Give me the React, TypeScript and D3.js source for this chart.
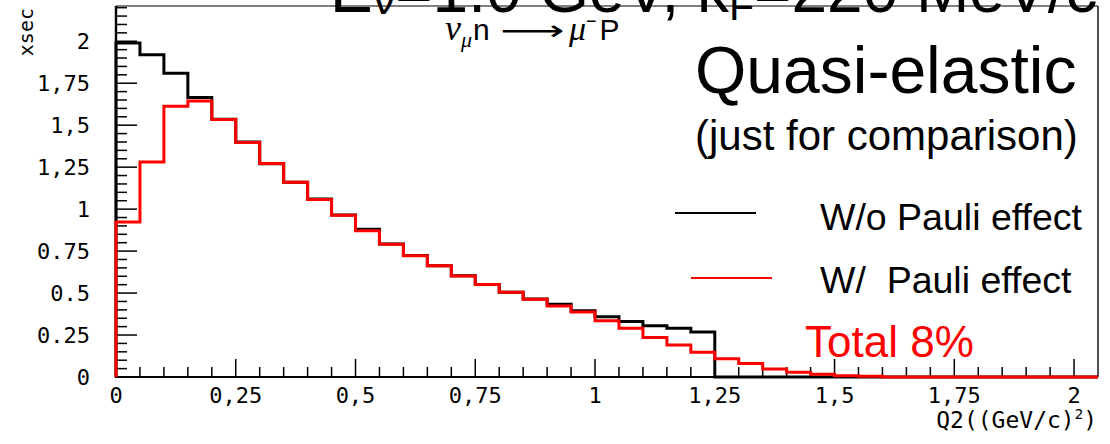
import React from 'react';
import * as d3 from 'd3';

// Q2 histogram binning (GeV/c)^2
const BIN_WIDTH = 0.05;
const X_MAX = 2.05;
const Y_MAX = 2.21;

// Quasi-elastic cross section per Q2 bin, without Pauli blocking
const xsecNoPauli = [
  1.99, 1.92, 1.81, 1.665, 1.535, 1.4, 1.27, 1.16, 1.06, 0.965,
  0.88, 0.792, 0.724, 0.662, 0.603, 0.551, 0.505, 0.464, 0.434, 0.395,
  0.359, 0.331, 0.305, 0.29, 0.268, 0, 0, 0, 0, 0,
  0, 0, 0, 0, 0, 0, 0, 0, 0, 0,
  0,
];

// Same, with Pauli blocking applied
const xsecPauli = [
  0.923, 1.28, 1.613, 1.644, 1.534, 1.397, 1.272, 1.16, 1.058, 0.963,
  0.871, 0.791, 0.722, 0.662, 0.601, 0.551, 0.505, 0.463, 0.423, 0.387,
  0.335, 0.29, 0.235, 0.191, 0.147, 0.109, 0.08, 0.047, 0.029, 0.016,
  0.007, 0.004, 0, 0, 0, 0, 0, 0, 0, 0,
  0,
];

const xTickValues = [0, 0.25, 0.5, 0.75, 1, 1.25, 1.5, 1.75, 2];
const xTickLabels = ['0', '0,25', '0,5', '0,75', '1', '1,25', '1,5', '1,75', '2'];
const yTickValues = [0, 0.25, 0.5, 0.75, 1, 1.25, 1.5, 1.75, 2];
const yTickLabels = ['0', '0.25', '0.5', '0.75', '1', '1,25', '1,5', '1,75', '2'];

const legendItems = [
  { label: 'W/o Pauli effect', color: '#000000' },
  { label: 'W/  Pauli effect', color: '#ff0000' },
];

const LEFT = 116;
const RIGHT = 1098;
const TOP = 6;
const BOTTOM = 377;

const axisFont = '"DejaVu Sans Mono", monospace';
const textFont = '"Liberation Sans", Arial, sans-serif';
const serifFont = '"Liberation Serif", serif';

export default function App() {
  const x = d3.scaleLinear().domain([0, X_MAX]).range([LEFT, RIGHT]);
  const y = d3.scaleLinear().domain([0, Y_MAX]).range([BOTTOM, TOP]);

  const histPath = (vals: number[]) => {
    const pts: [number, number][] = [
      [0, 0],
      ...vals.map((v, i) => [i * BIN_WIDTH, v] as [number, number]),
      [X_MAX, vals[vals.length - 1]],
      [X_MAX, 0],
    ];
    return (
      d3
        .line<[number, number]>()
        .x((d) => x(d[0]))
        .y((d) => y(d[1]))
        .curve(d3.curveStepAfter)(pts) || ''
    );
  };

  const isMajor = (v: number) => Math.abs(v / 0.25 - Math.round(v / 0.25)) < 1e-6;
  const xMinor = d3.range(0, X_MAX - 0.001, BIN_WIDTH).filter((v) => !isMajor(v));
  const yMinor = d3.range(0, Y_MAX - 0.001, BIN_WIDTH).filter((v) => !isMajor(v));

  return (
    <svg
      width={1110}
      height={444}
      style={{ position: 'absolute', left: 0, top: 0, background: '#fff' }}
      xmlns="http://www.w3.org/2000/svg"
    >
      <rect x={0} y={0} width={1110} height={444} fill="#fff" />

      {/* Run conditions title, sitting at the top edge */}
      <text x={330} y={12} fontFamily={textFont} fontSize={64} fill="#000" style={{ whiteSpace: 'pre' }}>
        E
        <tspan fontSize={45} dy={2}>ν</tspan>
        <tspan dy={-2}>=1.0 GeV, k</tspan>
        <tspan fontSize={41} dy={8}>F</tspan>
        <tspan dy={-8}>=220 MeV/c</tspan>
      </text>

      <defs>
        <clipPath id="plotArea">
          <rect x={LEFT - 3} y={TOP} width={RIGHT - LEFT + 3} height={BOTTOM - TOP + 3} />
        </clipPath>
      </defs>

      {/* Frame */}
      <line x1={LEFT} y1={TOP} x2={RIGHT} y2={TOP} stroke="#000" strokeWidth={1.2} />
      <line x1={RIGHT} y1={TOP} x2={RIGHT} y2={BOTTOM} stroke="#222" strokeWidth={1.6} />
      <line x1={LEFT} y1={TOP} x2={LEFT} y2={BOTTOM + 1} stroke="#000" strokeWidth={2.4} />
      <line x1={LEFT} y1={BOTTOM} x2={RIGHT} y2={BOTTOM} stroke="#000" strokeWidth={2} />

      {/* Y axis ticks */}
      {yTickValues.map((v) => (
        <line key={'ym' + v} x1={LEFT} x2={LEFT + 21} y1={y(v)} y2={y(v)} stroke="#000" strokeWidth={1.5} />
      ))}
      {yMinor.map((v) => (
        <line key={'yn' + v} x1={LEFT} x2={LEFT + 11} y1={y(v)} y2={y(v)} stroke="#000" strokeWidth={1.5} />
      ))}
      {yTickValues.map((v, i) => (
        <text
          key={'yl' + v}
          x={90}
          y={y(v)}
          dy="0.36em"
          textAnchor="end"
          fontFamily={axisFont}
          fontSize={22}
          fill="#000"
        >
          {yTickLabels[i]}
        </text>
      ))}

      {/* X axis ticks */}
      {xTickValues.map((v) => (
        <line key={'xm' + v} x1={x(v)} x2={x(v)} y1={BOTTOM} y2={BOTTOM - 18} stroke="#000" strokeWidth={1.5} />
      ))}
      {xMinor.map((v) => (
        <line key={'xn' + v} x1={x(v)} x2={x(v)} y1={BOTTOM} y2={BOTTOM - 10} stroke="#000" strokeWidth={1.5} />
      ))}
      {xTickValues.map((v, i) => (
        <text
          key={'xl' + v}
          x={x(v)}
          y={403}
          textAnchor="middle"
          fontFamily={axisFont}
          fontSize={22}
          fill="#000"
        >
          {xTickLabels[i]}
        </text>
      ))}

      {/* Axis titles */}
      <text
        transform="translate(33, 8) rotate(-90)"
        textAnchor="end"
        fontFamily={axisFont}
        fontSize={20}
        fill="#000"
      >
        xsec
      </text>
      <text x={1097} y={428} textAnchor="end" fontFamily={axisFont} fontSize={23} fill="#000">
        Q2((GeV/c)
        <tspan fontSize={14} dy={-9}>2</tspan>
        <tspan dy={9}>)</tspan>
      </text>

      {/* Histograms: without Pauli blocking first, with Pauli blocking on top */}
      <g clipPath="url(#plotArea)">
        <path d={histPath(xsecNoPauli)} fill="none" stroke="#000" strokeWidth={3} />
        <path d={histPath(xsecPauli)} fill="none" stroke="#ff0000" strokeWidth={3} />
      </g>

      {/* Reaction label */}
      <text x={445} y={40} fill="#000" fontSize={30}>
        <tspan fontFamily={serifFont} fontStyle="italic" fontSize={36}>ν</tspan>
        <tspan fontFamily={serifFont} fontStyle="italic" fontSize={22} dy={7}>μ</tspan>
        <tspan fontFamily={textFont} dy={-7} dx={1}>n</tspan>
      </text>
      <text
        transform="translate(500, 40) scale(1.6, 1)"
        fontFamily='"DejaVu Sans", sans-serif'
        fontSize={28}
        fill="#000"
      >
        ⟶
      </text>
      <text x={569} y={40} fill="#000" fontSize={30}>
        <tspan fontFamily={serifFont} fontStyle="italic" fontSize={34}>μ</tspan>
        <tspan fontFamily={textFont} fontSize={18} dy={-13}>−</tspan>
        <tspan fontFamily={textFont} dy={13} dx={3}>P</tspan>
      </text>

      {/* Annotations */}
      <text x={695} y={93} fontFamily={textFont} fontSize={66} fill="#000">
        Quasi-elastic
      </text>
      <text x={695} y={150} fontFamily={textFont} fontSize={42} fill="#000">
        (just for comparison)
      </text>

      {/* Legend */}
      {legendItems.map((item, i) => (
        <g key={item.label}>
          <line
            x1={i === 0 ? 675 : 691}
            x2={i === 0 ? 756 : 772}
            y1={213 + i * 65}
            y2={213 + i * 65}
            stroke={item.color}
            strokeWidth={2}
          />
          <text
            x={820}
            y={230 + i * 63}
            fontFamily={textFont}
            fontSize={37.5}
            fill="#000"
            style={{ whiteSpace: 'pre' }}
          >
            {item.label}
          </text>
        </g>
      ))}

      <text x={805} y={357} fontFamily={textFont} fontSize={44} fill="#ff0000">
        Total 8%
      </text>
    </svg>
  );
}
